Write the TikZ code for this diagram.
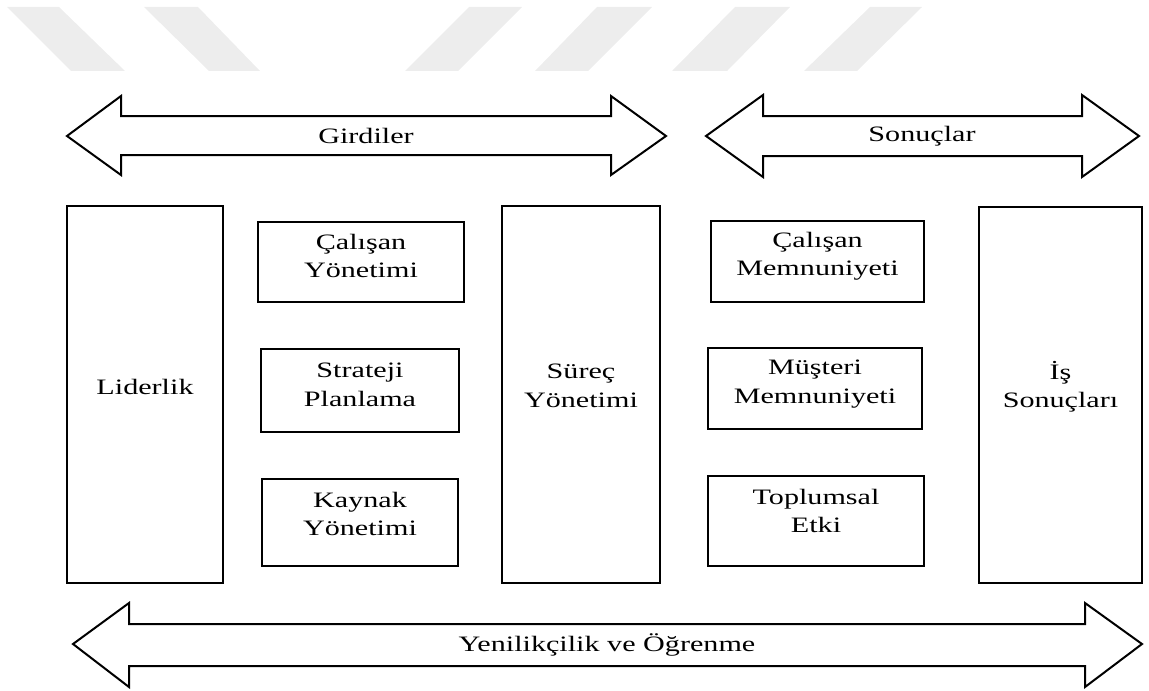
\documentclass[tikz,border=0pt]{standalone}
\usepackage{fontspec}
\setmainfont{Liberation Serif}[FakeStretch=1.37]

\tikzset{
  box/.style={draw, line width=1pt, inner sep=0pt},
  lbl/.style={align=center, inner sep=0pt, font=\fontsize{11}{14.25}\selectfont},
  band/.style={draw, line width=1pt, line join=miter, fill=white},
  stripe/.style={fill=black!7, draw=none}
}

\begin{document}
\begin{tikzpicture}[x=0.5pt, y=-0.5pt]
            \useasboundingbox (0,0) rectangle (1149,690);

            % faint stripes at the top
            \fill[stripe] (7,7) -- (59,7) -- (125,71) -- (71,71) -- cycle;
            \fill[stripe] (144,7) -- (198,7) -- (260,71) -- (209,71) -- cycle;
            \fill[stripe] (469,7) -- (522,7) -- (458,71) -- (405,71) -- cycle;
            \fill[stripe] (597,7) -- (652,7) -- (588,71) -- (535,71) -- cycle;
            \fill[stripe] (735,7) -- (790,7) -- (727,71) -- (672,71) -- cycle;
            \fill[stripe] (870,7) -- (922,7) -- (857,71) -- (804,71) -- cycle;

            % double arrows
            \draw[band] (67,136) -- (121,96) -- (121,116) -- (611,116) -- (611,96) -- (666,136)
                -- (611,175) -- (611,155) -- (121,155) -- (121,175) -- cycle;
            \node[lbl] (girdT) at (366,136) {Girdiler};

            \draw[band] (706,136) -- (763,95) -- (763,116) -- (1082,116) -- (1082,95) -- (1139,136)
                -- (1082,177) -- (1082,156) -- (763,156) -- (763,177) -- cycle;
            \node[lbl] (sonT) at (922,136) {Sonuçlar};

            \draw[band] (73,644) -- (129,603) -- (129,624) -- (1085,624) -- (1085,603) -- (1142,644)
                -- (1085,687) -- (1085,666) -- (129,666) -- (129,687) -- cycle;
            \node[lbl] (yenT) at (607,645) {Yenilikçilik ve Öğrenme};

            % inputs
            \node[box, minimum width=78pt, minimum height=188.5pt] (lider) at (145,394.5) {};
            \node[lbl] (liderT) at (145,387) {Liderlik};

            \node[box, minimum width=103pt, minimum height=40pt] (calyon) at (361,262) {};
            \node[lbl] (calyonT) at (361,256) {Çalışan\\Yönetimi};

            \node[box, minimum width=99pt, minimum height=41.5pt] (strat) at (360,390.5) {};
            \node[lbl] (stratT) at (360,385) {Strateji\\Planlama};

            \node[box, minimum width=98pt, minimum height=43.5pt] (kaynak) at (360,522.5) {};
            \node[lbl] (kaynakT) at (360,514) {Kaynak\\Yönetimi};

            \node[box, minimum width=79pt, minimum height=188.5pt] (surec) at (581,394.5) {};
            \node[lbl] (surecT) at (581,386) {Süreç\\Yönetimi};

            % results
            \node[box, minimum width=106.5pt, minimum height=40.5pt] (calmem) at (817.5,261.5) {};
            \node[lbl] (calmemT) at (817.5,256) {Çalışan\\Memnuniyeti};

            \node[box, minimum width=107pt, minimum height=40.5pt] (musmem) at (815,388.5) {};
            \node[lbl] (musmemT) at (815,384) {Müşteri\\Memnuniyeti};

            \node[box, minimum width=108pt, minimum height=45pt] (toplum) at (816,521) {};
            \node[lbl] (toplumT) at (816,511) {Toplumsal\\Etki};

            \node[box, minimum width=81.5pt, minimum height=188pt] (issonuc) at (1060.5,395) {};
            \node[lbl] (issonucT) at (1060.5,387) {İş\\Sonuçları};
        \end{tikzpicture}
\end{document}
